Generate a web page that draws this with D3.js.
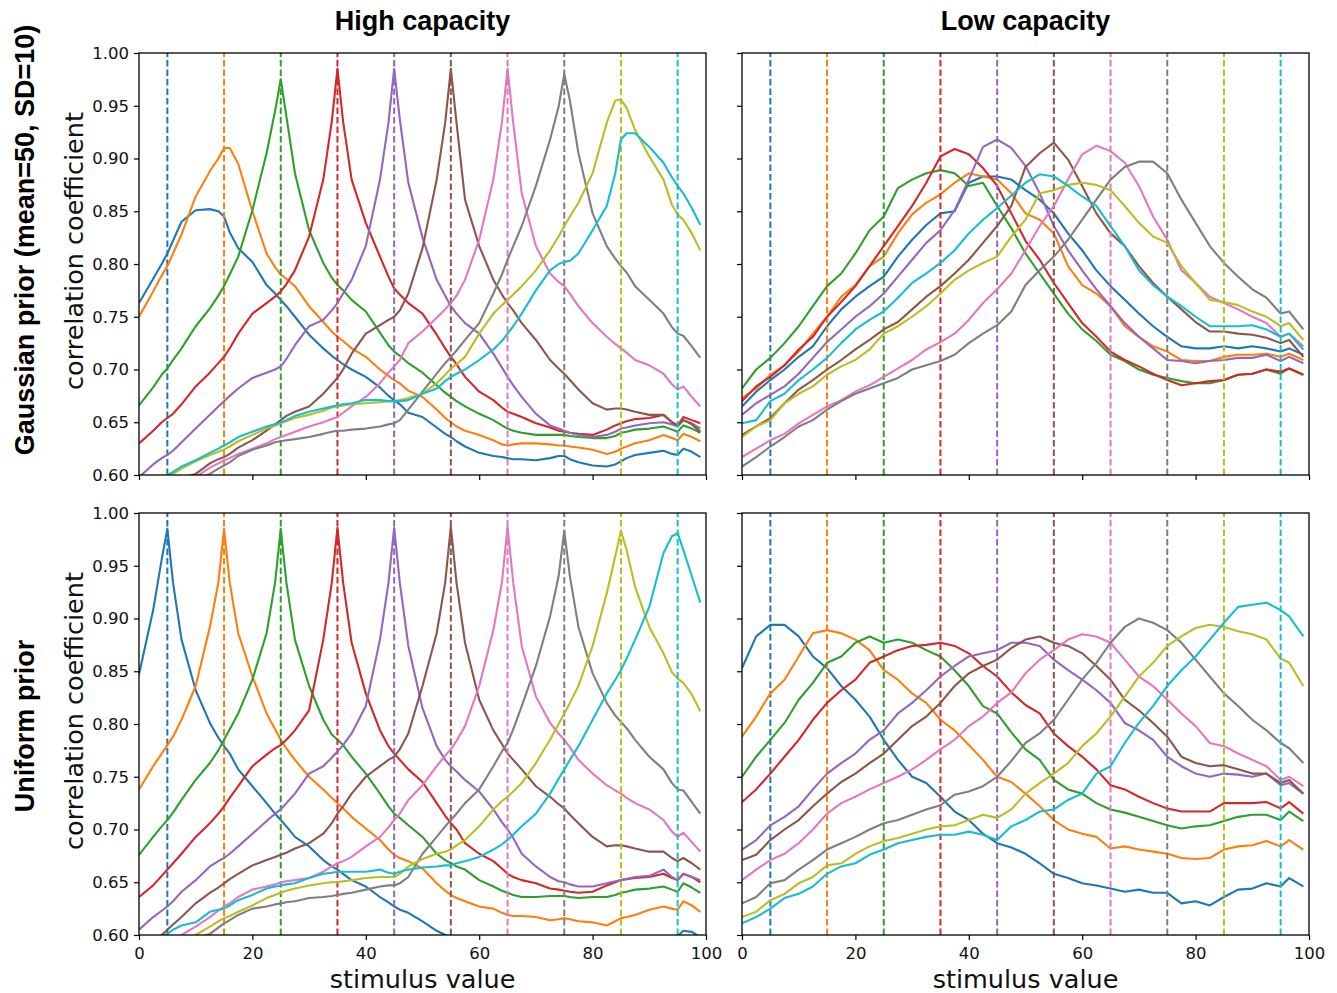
<!DOCTYPE html>
<html>
<head>
<meta charset="utf-8">
<script src="https://cdn.jsdelivr.net/npm/d3@7"></script>
<style>
  body { margin: 0; background: #ffffff; }
  svg { display: block; }
</style>
</head>
<body>
<svg id="chart" width="1337" height="993"></svg>
<script>
// Stimulus grids on which the correlation curves were sampled.
// The fine grid adds points one unit either side of each target so the sharp peaks keep their shape.
const stimulusFine = [0,2.5,4,5,6,7.5, 10,12.5,14,15,16,17.5, 20,22.5,24,25,26,27.5, 30,32.5,34,35,36,37.5,
  40,42.5,44,45,46,47.5, 50,52.5,54,55,56,57.5, 60,62.5,64,65,66,67.5, 70,72.5,74,75,76,77.5,
  80,82.5,84,85,86,87.5, 90,92.5,94,95,96,97.5, 99];
const stimulusCoarse = [0,2.5,5,7.5, 10,12.5,15,17.5, 20,22.5,25,27.5, 30,32.5,35,37.5, 40,42.5,45,47.5,
  50,52.5,55,57.5, 60,62.5,65,67.5, 70,72.5,75,77.5, 80,82.5,85,87.5, 90,92.5,95,96.5,99];

// Target stimulus of each curve (one colour per target, dashed marker line).
const targetStimuli = [5, 15, 25, 35, 45, 55, 65, 75, 85, 95];
const palette = ["#1f77b4","#ff7f0e","#2ca02c","#d62728","#9467bd","#8c564b","#e377c2","#7f7f7f","#bcbd22","#17becf"];

const yTicks = [0.60, 0.65, 0.70, 0.75, 0.80, 0.85, 0.90, 0.95, 1.00];
const xTicks = [0, 20, 40, 60, 80, 100];
const columnTitles = ["High capacity", "Low capacity"];
const rowTitles = ["Gaussian prior (mean=50, SD=10)", "Uniform prior"];
const yLabel = "correlation coefficient";
const xLabel = "stimulus value";

// Gaussian prior, high capacity (on stimulusFine)
const gaussHigh = [
  [.763,.786,.80,.81,.822,.84, .851,.852,.85,.845,.83,.815, .802,.78,.772,.766,.76,.75, .733,.72,.713,.709,.705,.70, .693,.683,.675,.671,.667,.659, .655,.645,.639,.636,.632,.627, .621,.618,.617,.616,.615,.615, .614,.616,.618,.618,.615,.612, .609,.608,.61,.613,.616,.619, .621,.623,.62,.619,.625,.622, .617],
  [.75,.774,.789,.798,.81,.828, .864,.888,.90,.91,.91,.895, .85,.81,.797,.79,.786,.779, .76,.745,.736,.731,.727,.72, .712,.70,.694,.69,.687,.68, .674,.662,.654,.65,.646,.642, .638,.633,.629,.628,.629,.63, .63,.629,.628,.628,.627,.626, .624,.62,.622,.625,.627,.63, .633,.638,.635,.633,.639,.636, .632],
  [.666,.683,.695,.701,.709,.72, .741,.758,.77,.779,.79,.807, .851,.905,.945,.975,.94,.886, .832,.801,.787,.78,.775,.766, .755,.735,.723,.717,.713,.706, .697,.685,.678,.674,.67,.665, .658,.652,.647,.644,.642,.64, .638,.638,.638,.638,.637,.636, .635,.635,.637,.64,.641,.643, .644,.646,.643,.641,.647,.644, .64],
  [.63,.642,.65,.654,.658,.667, .684,.697,.706,.712,.72,.734, .753,.763,.769,.774,.781,.794, .826,.88,.935,.985,.935,.88, .839,.807,.788,.777,.771,.763, .753,.733,.72,.712,.705,.693, .679,.671,.664,.66,.658,.655, .649,.645,.642,.641,.64,.639, .638,.643,.647,.649,.651,.653, .654,.657,.65,.647,.655,.652, .649],
  [.598,.61,.616,.619,.623,.631, .644,.657,.665,.67,.675,.682, .692,.697,.70,.703,.71,.723, .741,.747,.756,.763,.772,.785, .817,.88,.934,.985,.937,.877, .825,.785,.77,.76,.753,.744, .734,.715,.702,.693,.685,.674, .658,.647,.644,.642,.64,.638, .636,.638,.641,.644,.645,.647, .649,.65,.648,.646,.652,.649, .644],
  [.575,.582,.587,.59,.593,.597, .601,.611,.615,.617,.62,.626, .633,.642,.648,.652,.656,.66, .665,.677,.686,.692,.70,.715, .734,.742,.747,.75,.756,.772, .815,.88,.934,.985,.934,.861, .817,.785,.771,.763,.756,.744, .728,.709,.701,.696,.69,.681, .668,.662,.663,.663,.662,.66, .657,.657,.65,.647,.652,.648, .641],
  [.57,.578,.583,.586,.589,.593, .598,.607,.611,.614,.616,.62, .625,.63,.634,.636,.638,.641, .646,.65,.653,.655,.659,.665, .674,.687,.697,.703,.709,.725, .736,.749,.757,.763,.77,.785, .823,.88,.934,.985,.934,.867, .817,.791,.783,.779,.772,.76, .744,.731,.724,.72,.716,.709, .704,.696,.686,.681,.684,.674, .665],
  [.57,.576,.58,.583,.586,.59, .596,.601,.606,.609,.612,.618, .624,.628,.631,.632,.633,.634, .636,.639,.641,.642,.642,.643, .644,.646,.648,.649,.652,.662, .679,.696,.706,.712,.718,.728, .744,.772,.79,.804,.817,.836, .874,.918,.949,.98,.955,.905, .848,.817,.805,.798,.792,.779, .766,.753,.74,.734,.732,.722, .711],
  [.585,.59,.595,.598,.601,.606, .613,.619,.622,.624,.627,.632, .638,.644,.647,.649,.651,.654, .657,.661,.664,.665,.666,.667, .668,.669,.67,.67,.671,.673, .677,.687,.695,.701,.705,.712, .734,.753,.761,.766,.771,.779, .794,.813,.826,.836,.845,.858, .886,.934,.955,.956,.948,.927, .902,.88,.856,.847,.842,.829, .813],
  [.585,.592,.597,.60,.603,.608, .614,.621,.625,.628,.631,.636, .641,.646,.648,.65,.652,.656, .66,.663,.665,.666,.667,.668, .671,.671,.67,.67,.67,.671, .677,.682,.689,.693,.696,.70, .709,.719,.727,.734,.741,.753, .775,.794,.80,.802,.803,.81, .832,.855,.886,.918,.924,.924, .911,.896,.882,.874,.867,.853, .837]
];

// Gaussian prior, low capacity (on stimulusCoarse)
const gaussLow = [
  [.665,.679,.69,.70, .712,.722,.741,.757, .769,.779,.788,.807, .823,.837,.848,.85, .877,.883,.883,.88, .87,.861,.848,.829, .813,.794,.779,.766, .753,.741,.731,.722, .72,.72,.722,.72, .722,.72,.717,.72,.714],
  [.673,.682,.695,.704, .717,.734,.75,.769, .78,.798,.807,.829, .847,.858,.866,.877, .886,.883,.88,.867, .848,.842,.829,.798, .78,.772,.76,.741, .731,.722,.717,.709, .708,.708,.712,.714, .714,.715,.712,.715,.709],
  [.682,.70,.711,.725, .741,.76,.779,.791, .81,.832,.845,.872, .88,.886,.889,.886, .874,.877,.855,.834, .81,.791,.772,.753, .738,.727,.714,.708, .70,.695,.692,.689, .687,.687,.69,.695, .696,.70,.696,.701,.695],
  [.67,.684,.693,.704, .719,.731,.75,.764, .779,.798,.817,.836, .855,.877,.902,.909, .904,.891,.874,.848, .822,.804,.782,.763, .744,.731,.717,.709, .703,.696,.69,.685, .687,.689,.69,.695, .696,.70,.698,.701,.695],
  [.657,.668,.676,.684, .696,.711,.726,.738, .75,.76,.772,.788, .804,.82,.832,.851, .88,.911,.918,.91, .893,.867,.836,.813, .794,.776,.76,.744, .731,.72,.709,.708, .706,.708,.709,.711, .711,.714,.708,.712,.706],
  [.638,.646,.654,.668, .681,.69,.70,.709, .719,.728,.738,.745, .757,.769,.779,.791, .804,.82,.836,.855, .892,.905,.915,.899, .874,.848,.829,.817, .798,.782,.769,.757, .745,.736,.736,.734, .733,.73,.725,.728,.712],
  [.617,.625,.633,.639, .649,.657,.665,.671, .679,.685,.693,.701, .709,.719,.726,.734, .747,.763,.776,.791, .813,.836,.855,.88, .904,.912,.907,.896, .874,.845,.823,.794, .782,.769,.763,.757, .75,.744,.731,.734,.722],
  [.608,.617,.627,.636, .646,.652,.662,.67, .677,.682,.687,.692, .70,.704,.708,.714, .725,.734,.742,.755, .78,.794,.807,.823, .842,.861,.88,.892, .897,.897,.886,.861, .839,.817,.801,.788, .776,.768,.753,.755,.738],
  [.636,.646,.652,.668, .677,.684,.695,.703, .709,.719,.734,.741, .75,.76,.772,.785, .794,.801,.807,.826, .842,.867,.87,.875, .877,.875,.87,.855, .839,.826,.82,.798, .782,.766,.764,.761, .755,.75,.741,.744,.728],
  [.649,.652,.67,.677, .69,.70,.711,.725, .738,.747,.755,.768, .782,.791,.801,.813, .829,.842,.853,.865, .877,.885,.883,.874, .864,.855,.836,.817, .794,.78,.769,.76, .75,.741,.741,.741, .742,.738,.731,.734,.719]
];

// Uniform prior, high capacity (on stimulusFine)
const uniformHigh = [
  [.847,.908,.956,.985,.934,.88, .832,.801,.787,.779,.772,.757, .741,.725,.715,.709,.703,.693, .684,.671,.665,.662,.658,.652, .646,.636,.631,.627,.624,.621, .613,.604,.60,.597,.594,.592, .59,.587,.585,.585,.584,.583, .583,.584,.585,.585,.583,.582, .58,.58,.581,.582,.584,.587, .59,.595,.598,.599,.604,.603, .598],
  [.738,.76,.772,.78,.788,.804, .836,.892,.934,.985,.934,.886, .845,.81,.795,.785,.777,.766, .75,.738,.73,.725,.72,.712, .701,.69,.681,.676,.673,.67, .663,.649,.642,.638,.635,.632, .627,.625,.621,.619,.618,.618, .617,.614,.615,.616,.615,.613, .612,.609,.613,.616,.617,.619, .624,.627,.625,.624,.632,.628, .622],
  [.676,.693,.703,.709,.716,.728, .747,.763,.775,.785,.795,.81, .842,.886,.934,.985,.934,.88, .836,.804,.79,.785,.78,.769, .753,.734,.722,.715,.711,.704, .693,.677,.671,.668,.665,.662, .652,.646,.642,.64,.638,.636, .636,.637,.637,.637,.636,.635, .636,.636,.638,.64,.641,.643, .644,.646,.643,.641,.649,.645, .64],
  [.636,.647,.656,.662,.668,.677, .693,.706,.715,.722,.73,.741, .76,.771,.777,.78,.785,.794, .813,.88,.934,.986,.934,.877, .829,.794,.779,.772,.766,.757, .745,.725,.713,.706,.70,.687, .677,.67,.663,.658,.655,.652, .649,.644,.643,.642,.641,.64, .641,.647,.65,.652,.653,.654, .655,.658,.654,.652,.658,.655, .65],
  [.605,.617,.623,.627,.632,.641, .652,.665,.67,.673,.677,.684, .696,.708,.715,.719,.725,.734, .753,.76,.768,.774,.78,.791, .817,.88,.934,.986,.934,.874, .815,.779,.766,.76,.755,.747, .736,.719,.707,.70,.692,.677, .665,.655,.651,.65,.648,.646, .646,.649,.651,.652,.653,.655, .656,.662,.655,.652,.658,.655, .652],
  [.585,.594,.60,.605,.61,.617, .63,.64,.645,.649,.653,.658, .666,.671,.674,.676,.678,.682, .687,.696,.706,.715,.722,.734, .75,.76,.766,.769,.776,.791, .836,.886,.934,.987,.934,.877, .823,.794,.781,.772,.766,.757, .741,.731,.724,.72,.714,.706, .693,.684,.685,.685,.684,.682, .679,.679,.673,.67,.673,.668, .662],
  [.57,.578,.585,.589,.593,.60, .608,.617,.623,.627,.63,.636, .643,.646,.648,.65,.651,.652, .654,.66,.665,.668,.67,.674, .684,.693,.702,.709,.715,.728, .742,.76,.77,.776,.784,.798, .836,.889,.934,.987,.934,.874, .826,.801,.791,.785,.778,.766, .753,.742,.737,.734,.73,.725, .719,.709,.698,.693,.697,.688, .679],
  [.575,.58,.584,.587,.59,.593, .597,.601,.607,.611,.614,.619, .625,.627,.629,.63,.631,.632, .635,.636,.637,.638,.639,.64, .643,.646,.647,.647,.649,.655, .677,.693,.703,.709,.715,.725, .738,.76,.774,.782,.795,.817, .855,.902,.94,.983,.94,.892, .848,.82,.808,.802,.796,.785, .769,.757,.744,.738,.737,.726, .715],
  [.578,.584,.588,.59,.593,.597, .60,.608,.613,.616,.618,.622, .628,.635,.638,.64,.642,.644, .647,.649,.65,.65,.651,.652, .654,.655,.655,.655,.658,.665, .672,.677,.679,.681,.685,.69, .703,.719,.727,.731,.736,.744, .763,.785,.80,.81,.82,.836, .874,.924,.959,.983,.965,.93, .892,.867,.849,.843,.839,.828, .812],
  [.585,.593,.598,.601,.605,.609, .612,.622,.624,.625,.628,.633, .638,.644,.646,.647,.648,.649, .654,.658,.659,.66,.66,.66, .66,.662,.659,.658,.66,.662, .664,.665,.666,.666,.668,.67, .674,.681,.686,.69,.695,.703, .715,.734,.748,.757,.766,.779, .804,.829,.842,.851,.862,.88, .911,.962,.978,.981,.965,.94, .915]
];

// Uniform prior, low capacity (on stimulusCoarse)
const uniformLow = [
  [.853,.883,.894,.894, .883,.864,.853,.836, .823,.807,.785,.766, .75,.744,.731,.717, .709,.696,.687,.683, .677,.668,.658,.654, .649,.647,.644,.641, .643,.64,.64,.63, .632,.628,.636,.643, .644,.649,.646,.654,.646],
  [.788,.807,.829,.842, .864,.886,.889,.886, .88,.87,.851,.842, .829,.82,.804,.794, .78,.766,.75,.745, .734,.722,.709,.70, .696,.693,.682,.684, .681,.679,.677,.673, .672,.673,.681,.684, .685,.689,.684,.69,.681],
  [.75,.769,.785,.801, .823,.839,.858,.864, .877,.883,.877,.88, .877,.87,.864,.851, .836,.817,.81,.792, .776,.766,.747,.738, .734,.725,.719,.716, .712,.708,.704,.701, .703,.704,.708,.712, .714,.714,.709,.717,.708],
  [.726,.738,.753,.769, .785,.804,.82,.832, .842,.858,.864,.87, .874,.875,.877,.874, .867,.855,.845,.83, .818,.81,.791,.779, .769,.757,.742,.738, .731,.725,.72,.717, .717,.717,.725,.725, .725,.726,.72,.726,.715],
  [.681,.69,.704,.712, .722,.738,.753,.763, .772,.785,.794,.81, .82,.832,.845,.855, .864,.867,.87,.877, .877,.874,.861,.851, .842,.832,.82,.801, .794,.785,.769,.76, .753,.75,.753,.752, .75,.753,.742,.744,.734],
  [.671,.676,.69,.70, .709,.722,.734,.745, .753,.763,.772,.785, .798,.807,.82,.836, .848,.855,.861,.872, .88,.883,.877,.874, .867,.855,.842,.823, .813,.801,.788,.769, .763,.76,.761,.757, .753,.753,.744,.747,.734],
  [.652,.662,.671,.677, .687,.70,.715,.725, .731,.738,.744,.75, .757,.766,.776,.785, .798,.807,.82,.83, .848,.861,.87,.88, .885,.883,.877,.861, .845,.836,.823,.81, .798,.782,.779,.772, .766,.76,.747,.75,.741],
  [.63,.636,.649,.652, .662,.671,.681,.687, .693,.70,.706,.709, .714,.719,.723,.733, .736,.741,.75,.765, .782,.791,.804,.823, .842,.858,.877,.892, .90,.896,.889,.877, .861,.845,.829,.817, .804,.794,.782,.777,.763],
  [.617,.622,.633,.639, .649,.655,.666,.668, .677,.684,.689,.692, .696,.70,.703,.704, .709,.714,.711,.719, .734,.744,.753,.763, .779,.791,.807,.826, .845,.858,.874,.883, .891,.894,.892,.888, .885,.88,.862,.858,.836],
  [.611,.617,.625,.635, .639,.646,.658,.665, .668,.676,.681,.687, .69,.693,.695,.695, .698,.695,.69,.703, .709,.717,.719,.728, .734,.753,.76,.782, .801,.817,.836,.851, .864,.88,.896,.911, .913,.915,.908,.902,.883]
];

// ---------- layout ----------
const frame = { colLeft: [139, 742], rowTop: [53, 513], width: 567, height: 422 };
const tickFont = "'DejaVu Sans', sans-serif";
const titleFont = "'Liberation Sans', Arial, sans-serif";

const panels = [
  { series: gaussHigh,   grid: stimulusFine,   row: 0, col: 0 },
  { series: gaussLow,    grid: stimulusCoarse, row: 0, col: 1 },
  { series: uniformHigh, grid: stimulusFine,   row: 1, col: 0 },
  { series: uniformLow,  grid: stimulusCoarse, row: 1, col: 1 }
];

const svg = d3.select("#chart");
svg.append("rect").attr("width", 1337).attr("height", 993).attr("fill", "#ffffff");
const defs = svg.append("defs");

panels.forEach((p, k) => {
  const left = frame.colLeft[p.col], top = frame.rowTop[p.row];
  const x = d3.scaleLinear().domain([0, 100]).range([left, left + frame.width]);
  const y = d3.scaleLinear().domain([0.6, 1.0]).range([top + frame.height, top]);

  defs.append("clipPath").attr("id", "plot-area-" + k)
    .append("rect").attr("x", left).attr("y", top)
    .attr("width", frame.width).attr("height", frame.height);

  const plot = svg.append("g").attr("clip-path", `url(#plot-area-${k})`);
  const line = d3.line()
    .defined((d, i) => d != null && p.grid[i] != null)
    .x((d, i) => x(p.grid[i]))
    .y(d => y(d));

  p.series.forEach((values, i) => {
    plot.append("path")
      .attr("d", line(values))
      .attr("fill", "none")
      .attr("stroke", palette[i])
      .attr("stroke-width", 2.1)
      .attr("stroke-linejoin", "round");
    plot.append("line")
      .attr("x1", x(targetStimuli[i])).attr("x2", x(targetStimuli[i]))
      .attr("y1", y(0.6)).attr("y2", y(1.0))
      .attr("stroke", palette[i])
      .attr("stroke-width", 2)
      .attr("stroke-dasharray", "6.5,3");
  });

  // y axis
  const yAxis = d3.axisLeft(y).tickValues(yTicks).tickSize(5).tickPadding(5)
    .tickFormat(p.col === 0 ? d3.format(".2f") : () => "");
  const gy = svg.append("g").attr("transform", `translate(${left},0)`).call(yAxis);
  // x axis
  const xAxis = d3.axisBottom(x).tickValues(xTicks).tickSize(5).tickPadding(7)
    .tickFormat(p.row === 1 ? d3.format("d") : () => "");
  const gx = svg.append("g").attr("transform", `translate(0,${top + frame.height})`).call(xAxis);

  [gy, gx].forEach(g => {
    g.select(".domain").remove();
    g.selectAll(".tick line").attr("stroke", "#000").attr("stroke-width", 1.2);
    g.selectAll(".tick text")
      .attr("font-family", tickFont).attr("font-size", "16.5px").attr("fill", "#111");
  });

  // axes frame
  svg.append("rect")
    .attr("x", left).attr("y", top)
    .attr("width", frame.width).attr("height", frame.height)
    .attr("fill", "none").attr("stroke", "#000").attr("stroke-width", 1.3);

  // y label on the left column
  if (p.col === 0) {
    const cy = top + frame.height / 2 - 13;
    svg.append("text")
      .attr("transform", `translate(83,${cy}) rotate(-90)`)
      .attr("text-anchor", "middle")
      .attr("font-family", tickFont).attr("font-size", "25.5px").attr("fill", "#111")
      .text(yLabel);
  }
  // x label on the bottom row
  if (p.row === 1) {
    svg.append("text")
      .attr("x", left + frame.width / 2).attr("y", 988)
      .attr("text-anchor", "middle")
      .attr("font-family", tickFont).attr("font-size", "25.5px").attr("fill", "#111")
      .text(xLabel);
  }
});

// column titles
columnTitles.forEach((t, c) => {
  svg.append("text")
    .attr("x", frame.colLeft[c] + frame.width / 2).attr("y", 30)
    .attr("text-anchor", "middle")
    .attr("font-family", titleFont).attr("font-weight", "bold").attr("font-size", "27px")
    .attr("fill", "#000")
    .text(t);
});

// row titles
const rowTitleCentre = [240, 726];
rowTitles.forEach((t, r) => {
  svg.append("text")
    .attr("transform", `translate(34,${rowTitleCentre[r]}) rotate(-90)`)
    .attr("text-anchor", "middle")
    .attr("font-family", titleFont).attr("font-weight", "bold").attr("font-size", "27px")
    .attr("fill", "#000")
    .text(t);
});
</script>
</body>
</html>
